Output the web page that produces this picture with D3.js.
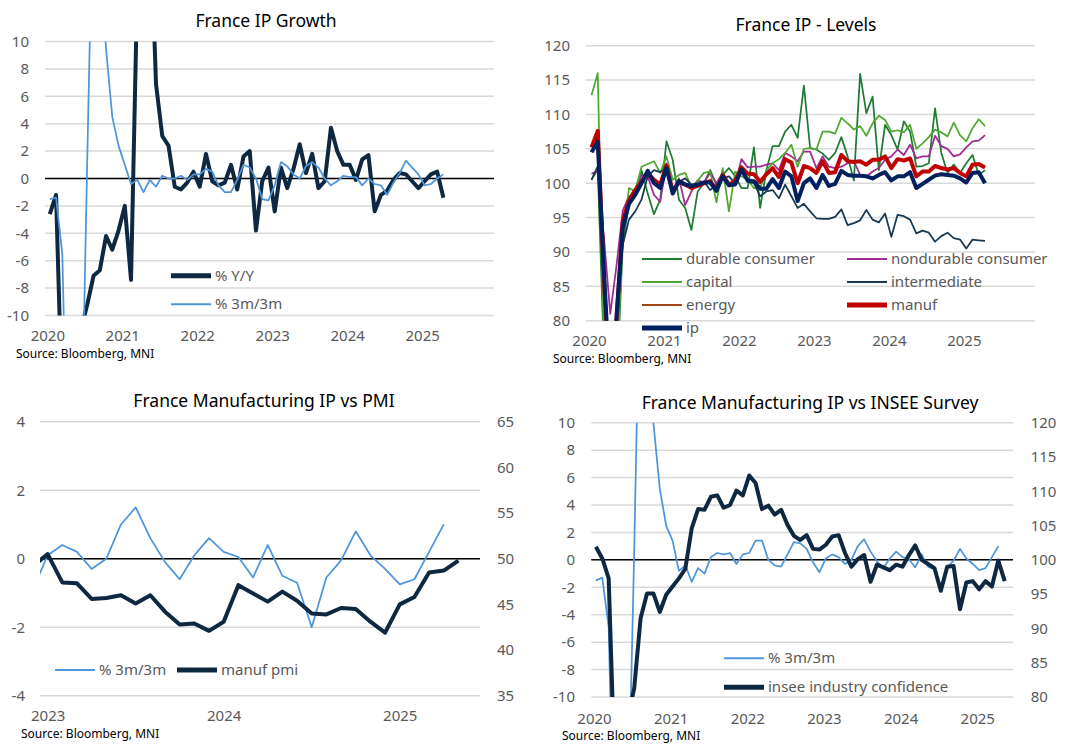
<!DOCTYPE html>
<html>
<head>
<meta charset="utf-8">
<script src="https://cdn.jsdelivr.net/npm/d3@7"></script>
<style>
  body { margin: 0; background: #fff; }
  text { font-family: "Noto Sans", "Open Sans", sans-serif; }
</style>
</head>
<body>
<div id="chart"></div>
<script>
// Monthly series, index 0 = Jan 2020
const years = [2020, 2021, 2022, 2023, 2024, 2025];

// France IP growth
const ipYoY = [-2.6, -1.2, -17, -34, -23, -11, -9.2, -7.1, -6.7, -4.2,
  -5.2, -3.8, -2.0, -7.4, 14, 44, 20, 6.9, 3.1, 2.4,
  -0.6, -0.8, -0.3, 0.5, -0.6, 1.8, -0.2, -0.5, -0.3, 1.0,
  -0.8, 1.6, 2.0, -3.8, -0.2, 0.8, -2.4, 0.8, -0.7, 0.7,
  2.5, 0.4, 1.8, -0.7, -0.2, 3.7, 2.0, 1.0, 1.0, -0.1,
  1.4, 1.7, -2.4, -1.2, -0.9, -0.1, 0.4, 0.3, -0.2, -0.7,
  -0.2, 0.3, 0.5, -1.4];
const ip3m3m = [-1.5, -1.4, -5.5, -25, -28, -21, 1.5, 23, 17, 9.5,
  4.5, 2.4, 1.0, -0.4, -0.1, -1.0, -0.1, -0.6, 0.2, 0.0,
  0.0, 0.2, -0.1, 0.3, 0.3, 0.7, 0.5, -0.5, -1.0, -1.0,
  -0.1, 1.0, 0.8, 0.0, -1.5, -1.6, -0.5, 1.2, 0.9, 0.3,
  0.0, 0.9, 1.2, 0.8, 0.0, -0.5, -0.2, 0.2, 0.1, 0.1,
  -0.5, 0.0, -0.4, -0.5, -1.2, -0.3, 0.4, 1.3, 0.8, 0.3,
  -0.5, -0.4, 0.0, 0.3];

// France IP levels
const levelDurable = [100.5, 102.0, 75, 45, 70, 91, 97.1, 99, 101.9, 98.5,
  95.5, 97.6, 106.1, 103.4, 97.6, 96.4, 93.2, 98.8, 100, 101.9,
  99.8, 101.2, 102.2, 101, 99.3, 99.3, 105.2, 96.4, 101.9, 105.4,
  105.4, 107.5, 108.5, 106.6, 114.2, 105.1, 104.9, 104.3, 103.4, 104.4,
  106.7, 103.9, 100.4, 115.9, 110.2, 112.6, 101.9, 108.5, 107, 104.9,
  109, 107.5, 102.4, 102.5, 102.9, 110.9, 104.4, 101.5, 102.7, 101.5,
  102.9, 104.1, 101.2, 101.9];
const levelNondurable = [101.4, 101.7, 92, 81, 88, 96, 98.1, 98.3, 101.2, 101.0,
  98.3, 97.3, 102.9, 98.8, 100.7, 96.8, 98.8, 100.4, 100.1, 101.5,
  100.0, 101.5, 99.8, 99.8, 103.5, 102.3, 102.4, 102.4, 102.7, 102.9,
  101.9, 104.4, 103.9, 103.2, 104.6, 104.6, 102.2, 103.9, 102.4, 102.2,
  102.4, 102.9, 103.2, 101.2, 101.0, 101.7, 102.2, 103.4, 103.9, 104.9,
  104.1, 105.6, 103.6, 103.9, 103.9, 106.9, 105.4, 105.0, 103.9, 104.2,
  105.2, 106.1, 106.2, 107.0];
const levelCapital = [112.8, 116.0, 75, 55, 72, 92, 99.3, 98.8, 102.4, 102.8,
  103.2, 101.5, 103.9, 100.5, 101.2, 101.5, 99.4, 100.4, 101.5, 101.7,
  97.2, 102.2, 95.9, 101.7, 101.0, 100.5, 99.3, 99.3, 101.9, 102.9,
  103.5, 104.4, 105.6, 102.4, 105, 105.1, 104.9, 107.5, 107.5, 107.2,
  109.5, 108.7, 107.8, 108.3, 106.9, 108.7, 109.8, 109.2, 107.5, 107.7,
  107.4, 108.5, 105, 105.8, 106.7, 107.8, 107.4, 106.8, 108.8, 107,
  106.1, 108, 109.3, 108.3];
const levelIntermediate = [100.5, 102.5, 88, 72, 80, 91, 94.7, 95.9, 97.6, 101.0,
  101.9, 101.6, 102.2, 99.3, 100.2, 100.7, 99.8, 99.9, 100.2, 99.0,
  99.8, 100.7, 101.0, 100.0, 102.4, 100.2, 100.0, 98.1, 98.8, 99.0,
  97.8, 99.8, 98.1, 96.4, 97.0, 95.9, 94.9, 94.8, 94.8, 95.1,
  96.2, 93.9, 94.2, 94.6, 96.1, 94.7, 94.3, 95.6, 92.2, 95.4,
  95.2, 94.7, 92.7, 93.1, 92.8, 91.5, 92.3, 92.8, 92.0, 91.8,
  90.5, 91.8, 91.7, 91.6];
const levelEnergy = []; // listed in the legend, no line visible in the reference
const levelManuf = [105.2, 107.6, 86, 68, 80, 94.5, 97.5, 99, 100.2, 101.5,
  100.5, 99.8, 102.6, 98.8, 100.2, 99.8, 99.3, 99.6, 100, 100.3,
  99.0, 101.2, 99.8, 100.3, 102.3, 101.4, 101.3, 100.2, 101.3, 102.2,
  100.9, 103.5, 103.0, 100.0, 102.5, 102.2, 101.5, 103.2, 101.5, 101.6,
  104.1, 103.2, 103.1, 103.2, 102.7, 103.4, 103.4, 103.9, 102.2, 103.5,
  103.3, 103.6, 101.0, 101.7, 101.7, 102.5, 102.2, 102.0, 102.2, 101.5,
  101.0, 102.7, 102.8, 102.3];
const levelIp = [104.5, 106.0, 87, 70, 80.5, 93.5, 97.0, 98.3, 100.0, 101.8,
  100.0, 99.3, 102.2, 98.5, 100.3, 99.8, 99.6, 99.8, 100.1, 100.1,
  98.9, 101.0, 99.7, 99.8, 102.0, 100.4, 100.3, 99.2, 99.2, 100.6,
  99.3, 101.7, 101.0, 97.4, 100.0, 100.7, 99.3, 101.2, 99.6, 99.9,
  101.8, 101.2, 101.1, 101.1, 101.0, 100.7, 101.2, 101.6, 100.4, 101.0,
  101.0, 101.6, 99.3, 99.9, 100.5, 101.1, 101.3, 101.2, 101.1, 100.7,
  100.1, 101.5, 101.6, 100.0];

// Manufacturing IP % 3m/3m, Jan 2020 - Apr 2025
const manuf3m3m = [-1.5, -1.3, -4.9, -25, -28, -20, 0.7, 24, 17, 10,
  5.2, 2.5, 1.4, -0.8, -0.4, -1.6, -0.6, -1.0, 0.2, 0.5,
  0.4, 0.5, -0.3, 0.4, 0.5, 1.4, 1.4, 0.0, -0.4, -0.5,
  0.4, 1.3, 1.2, 0.8, -0.2, -0.9, 0.1, 0.4, 0.2, -0.3,
  0.0, 1.0, 1.5, 0.6, -0.1, -0.6, 0.1, 0.6, 0.2, 0.05,
  -0.55, 0.4, -0.5, -0.7, -2.0, -0.55, -0.05, 0.8, 0.1, -0.3,
  -0.75, -0.6, 0.2, 1.0];

// Manufacturing PMI, Dec 2022 (index 35) - May 2025
const pmiStart = 35;
const manufPmi = [49.2, 50.5, 47.4, 47.3, 45.6, 45.7, 46.0, 45.1, 46.0, 44.2,
  42.8, 42.9, 42.1, 43.1, 47.1, 46.2, 45.3, 46.4, 45.4, 44.0,
  43.9, 44.6, 44.5, 43.1, 41.9, 45.0, 45.8, 48.5, 48.7, 49.8];

// INSEE industry confidence, Jan 2020 - May 2025
const inseeConf = [101.9, 100.2, 97.3, 68, 72, 77, 81.3, 91.5, 95.1, 95.1,
  92.4, 94.9, 96.1, 97.3, 98.7, 104.6, 107.4, 107.3, 109.2, 109.4,
  107.6, 108.0, 110.1, 109.4, 112.3, 111.2, 107.4, 107.9, 106.6, 107.3,
  105.1, 103.5, 102.9, 103.6, 101.6, 101.5, 102.2, 103.4, 103.6, 101.0,
  99.0, 100.1, 100.7, 96.8, 99.3, 98.9, 98.5, 99.3, 99.0, 100.7,
  102.1, 100.0, 99.4, 98.8, 95.5, 99.0, 99.1, 92.8, 96.7, 96.9,
  95.7, 96.9, 96.1, 99.9, 96.9];

const navy = "#0e2841";
const lightBlue = "#4e95d9";
const grey = "#595959";

const svg = d3.select("#chart")
  .append("svg")
  .attr("width", 1078)
  .attr("height", 752);

svg.append("rect").attr("width", 1078).attr("height", 752).attr("fill", "#fff");

function styleAxis(a) {
  a.select(".domain").remove();
  a.selectAll("text")
    .attr("fill", grey)
    .style("font-size", "15px");
}

// grid, axes, title and source for one panel
function drawPanel(p) {
  const g = svg.append("g");
  const x = d3.scaleLinear().domain(p.xDomain).range(p.xRange);
  const y = d3.scaleLinear().domain(p.yDomain).range(p.yRange);

  svg.append("clipPath").attr("id", "clip" + p.id)
    .append("rect")
    .attr("x", p.xRange[0])
    .attr("y", p.yRange[1])
    .attr("width", p.xRange[1] - p.xRange[0])
    .attr("height", p.yRange[0] - p.yRange[1]);

  g.append("g").selectAll("line")
    .data(p.yTicks)
    .join("line")
    .attr("x1", p.xRange[0]).attr("x2", p.xRange[1])
    .attr("y1", d => y(d)).attr("y2", d => y(d))
    .attr("stroke", "#d9d9d9")
    .attr("stroke-width", 1.5);

  g.append("g")
    .attr("transform", `translate(${p.xRange[0]},0)`)
    .call(d3.axisLeft(y).tickValues(p.yTicks).tickSize(0).tickPadding(p.yPad).tickFormat(d => String(d)))
    .call(styleAxis);

  g.append("g")
    .attr("transform", `translate(0,${p.yRange[0]})`)
    .call(d3.axisBottom(x).tickValues(p.xTicks).tickSize(0).tickPadding(p.xPad)
      .tickFormat(m => String(2020 + m / 12)))
    .call(styleAxis);

  if (p.zero) {
    g.append("line")
      .attr("x1", p.xRange[0]).attr("x2", p.xRange[1])
      .attr("y1", y(0)).attr("y2", y(0))
      .attr("stroke", "#000")
      .attr("stroke-width", 1.5);
  }

  g.append("text")
    .attr("x", p.titleX).attr("y", p.titleY)
    .attr("text-anchor", "middle")
    .attr("fill", "#000")
    .style("font-size", "17.5px")
    .text(p.title);

  g.append("text")
    .attr("x", p.sourceX).attr("y", p.sourceY)
    .attr("fill", "#000")
    .style("font-size", "12px")
    .text("Source: Bloomberg, MNI");

  return { g, x, y, clip: `url(#clip${p.id})`, shift: p.shift || 0 };
}

function addLine(panel, yScale, values, start, color, width) {
  panel.g.append("path")
    .datum(values)
    .attr("clip-path", panel.clip)
    .attr("fill", "none")
    .attr("stroke", color)
    .attr("stroke-width", width)
    .attr("stroke-linejoin", "round")
    .attr("d", d3.line().x((d, i) => panel.x(start + i + panel.shift)).y(d => yScale(d)));
}

function addLegend(panel, items) {
  items.forEach(it => {
    panel.g.append("line")
      .attr("x1", it.x).attr("x2", it.x + 40)
      .attr("y1", it.y).attr("y2", it.y)
      .attr("stroke", it.color)
      .attr("stroke-width", it.width);
    panel.g.append("text")
      .attr("x", it.x + 44).attr("y", it.y + 5)
      .attr("fill", grey)
      .style("font-size", "15px")
      .text(it.label);
  });
}

const yearTicks = years.map(y => (y - 2020) * 12);

// Panel 1: France IP Growth
const p1 = drawPanel({
  id: 1, xDomain: [-0.37, 71.5], xRange: [45, 494], shift: 0.4,
  yDomain: [-10, 10], yRange: [315.5, 41.5], yTicks: d3.range(-10, 11, 2), yPad: 16,
  xTicks: yearTicks, xPad: 15, zero: true,
  title: "France IP Growth", titleX: 266, titleY: 27,
  sourceX: 16, sourceY: 358
});
addLine(p1, p1.y, ipYoY, 0, navy, 4);
addLine(p1, p1.y, ip3m3m, 0, lightBlue, 1.75);
addLegend(p1, [
  { x: 171, y: 275.7, color: navy, width: 5, label: "% Y/Y" },
  { x: 171, y: 304.3, color: lightBlue, width: 2, label: "% 3m/3m" }
]);

// Panel 2: France IP - Levels
const p2 = drawPanel({
  id: 2, xDomain: [-0.53, 71.4], xRange: [585.7, 1035], shift: 0.4,
  yDomain: [80, 120], yRange: [320.7, 45.7], yTicks: d3.range(80, 121, 5), yPad: 15.7,
  xTicks: yearTicks, xPad: 15, zero: false,
  title: "France IP - Levels", titleX: 806, titleY: 31,
  sourceX: 553, sourceY: 363
});
const levelSeries = [
  { label: "durable consumer", values: levelDurable, color: "#1e7b34", width: 1.75 },
  { label: "nondurable consumer", values: levelNondurable, color: "#a02b93", width: 1.75 },
  { label: "capital", values: levelCapital, color: "#4ea72e", width: 1.75 },
  { label: "intermediate", values: levelIntermediate, color: "#173a52", width: 1.75 },
  { label: "energy", values: levelEnergy, color: "#a0471a", width: 1.75 },
  { label: "manuf", values: levelManuf, color: "#c00000", width: 4 },
  { label: "ip", values: levelIp, color: "#002060", width: 4 }
];
levelSeries.forEach(s => {
  if (s.values.length) addLine(p2, p2.y, s.values, 0, s.color, s.width);
});
addLegend(p2, levelSeries.map((s, i) => ({
  x: i % 2 === 0 ? 642 : 847,
  y: [259, 282, 305, 328][Math.floor(i / 2)],
  color: s.color,
  width: s.width === 4 ? 5 : 2,
  label: s.label
})));

// Panel 3: France Manufacturing IP vs PMI
const p3 = drawPanel({
  id: 3, xDomain: [35.48, 65.47], xRange: [40, 480],
  yDomain: [-4, 4], yRange: [695.7, 421.7], yTicks: d3.range(-4, 5, 2), yPad: 15,
  xTicks: [36, 48, 60], xPad: 15, zero: true,
  title: "France Manufacturing IP vs PMI", titleX: 264, titleY: 407,
  sourceX: 21, sourceY: 738
});
const p3y2 = d3.scaleLinear().domain([35, 65]).range([695.7, 421.7]);
p3.g.append("g")
  .attr("transform", "translate(480,0)")
  .call(d3.axisRight(p3y2).tickValues(d3.range(35, 66, 5)).tickSize(0).tickPadding(17))
  .call(styleAxis);
addLine(p3, p3.y, manuf3m3m, 0, lightBlue, 1.75);
addLine(p3, p3y2, manufPmi, pmiStart, navy, 4);
addLegend(p3, [
  { x: 55, y: 670, color: lightBlue, width: 2, label: "% 3m/3m" },
  { x: 177, y: 670, color: navy, width: 5, label: "manuf pmi" }
]);

// Panel 4: France Manufacturing IP vs INSEE Survey
const p4 = drawPanel({
  id: 4, xDomain: [-0.42, 65.6], xRange: [591.3, 1013], shift: 0.3,
  yDomain: [-10, 10], yRange: [697, 422.7], yTicks: d3.range(-10, 11, 2), yPad: 16.3,
  xTicks: yearTicks, xPad: 16, zero: true,
  title: "France Manufacturing IP vs INSEE Survey", titleX: 810, titleY: 409,
  sourceX: 562, sourceY: 740
});
const p4y2 = d3.scaleLinear().domain([80, 120]).range([697, 422.7]);
p4.g.append("g")
  .attr("transform", "translate(1013,0)")
  .call(d3.axisRight(p4y2).tickValues(d3.range(80, 121, 5)).tickSize(0).tickPadding(17.7))
  .call(styleAxis);
addLine(p4, p4.y, manuf3m3m, 0, lightBlue, 1.75);
addLine(p4, p4y2, inseeConf, 0, navy, 4);
addLegend(p4, [
  { x: 724, y: 658.3, color: lightBlue, width: 2, label: "% 3m/3m" },
  { x: 724, y: 687.3, color: navy, width: 5, label: "insee industry confidence" }
]);
</script>
</body>
</html>
